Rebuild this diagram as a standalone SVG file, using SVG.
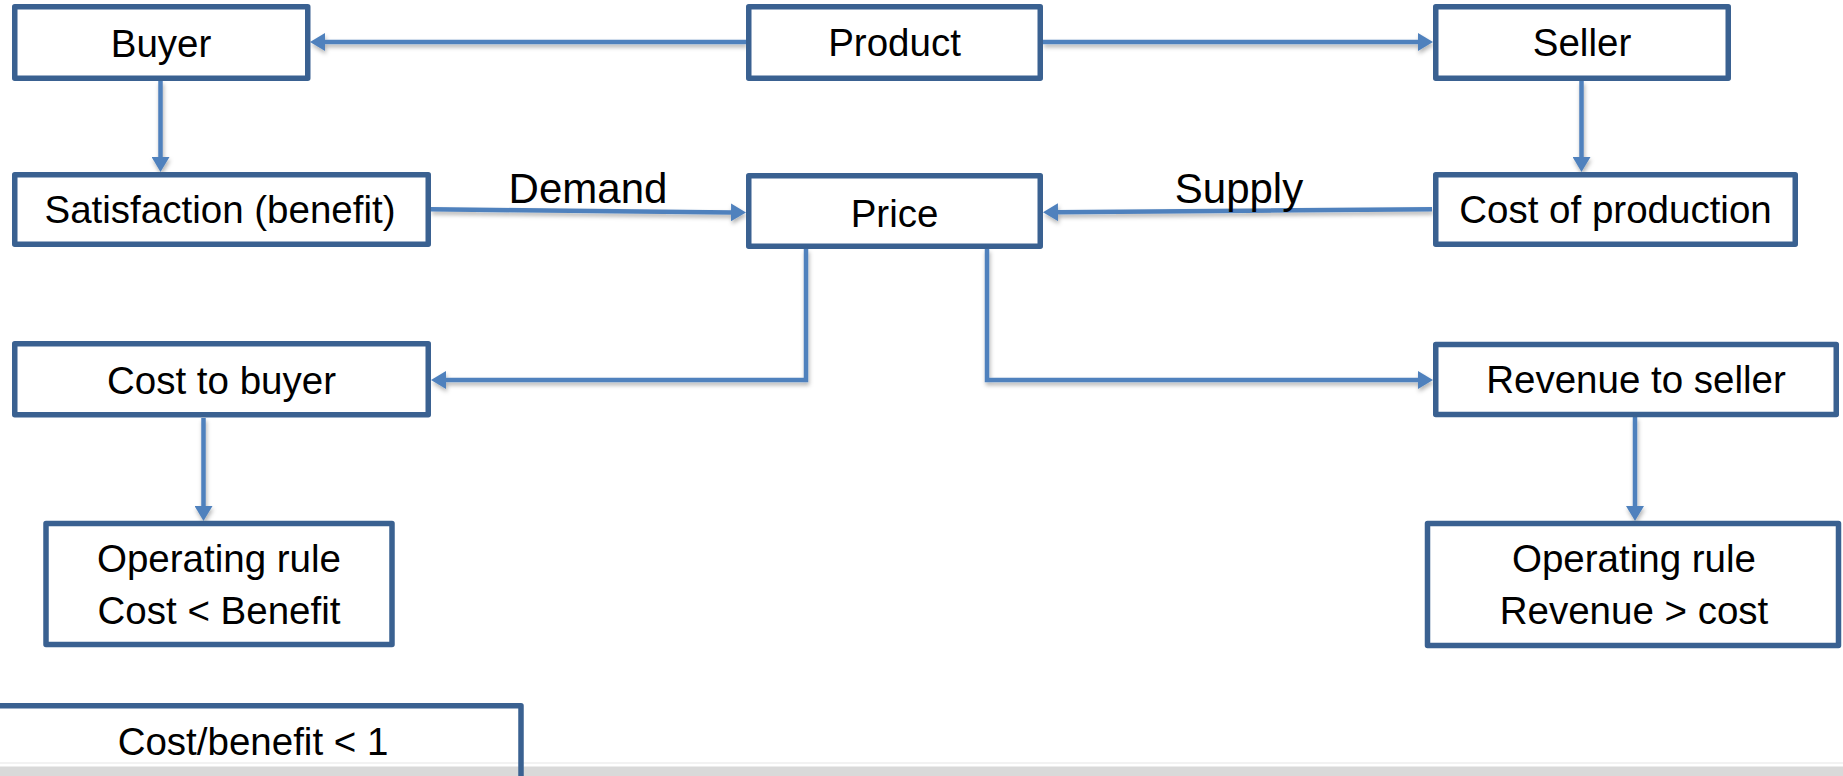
<svg xmlns="http://www.w3.org/2000/svg" width="1843" height="776" viewBox="0 0 1843 776">
<style>
.box{fill:#ffffff;stroke:#3A6191;stroke-width:5.5;stroke-linejoin:round}
.lbl{font-family:"Liberation Sans",Arial,sans-serif;font-size:38.5px;fill:#000;text-anchor:middle}
.big{font-family:"Liberation Sans",Arial,sans-serif;font-size:42px;fill:#000;text-anchor:middle}
.con{fill:none;stroke:#4F81BD;stroke-width:4.5;marker-end:url(#ah)}
</style>
<defs>
<marker id="ah" viewBox="0 0 15 18" refX="2" refY="9" markerWidth="15" markerHeight="18" markerUnits="userSpaceOnUse" orient="auto">
<path d="M0,0 L15,9 L0,18 z" fill="#4F81BD"/>
</marker>
<filter id="sh" x="-5%" y="-50%" width="110%" height="200%">
<feDropShadow dx="1" dy="3" stdDeviation="2" flood-color="#000" flood-opacity="0.3"/>
</filter>
</defs>
<rect x="0" y="762" width="1843" height="2" fill="#f2f2f2"/>
<rect x="0" y="766.5" width="1843" height="10" fill="#d9d9d9"/>
<g id="connectors" filter="url(#sh)">
<path class="con" d="M746,42 L323,42"/>
<path class="con" d="M1043,42 L1420,42"/>
<path class="con" d="M160.5,81 L160.5,159"/>
<path class="con" d="M1581.5,81 L1581.5,159"/>
<path class="con" d="M431,209.3 L733,212.4"/>
<path class="con" d="M1432,209.3 L1056,212.2"/>
<path class="con" d="M806,249 L806,380 L444,380"/>
<path class="con" d="M987,249 L987,380 L1420,380"/>
<path class="con" d="M203.5,418 L203.5,508"/>
<path class="con" d="M1635,417 L1635,508"/>
</g>
<g id="buyer"><rect class="box" x="14.75" y="6.75" width="293" height="71.5"/><text class="lbl" x="161" y="57">Buyer</text></g>
<g id="product"><rect class="box" x="748.75" y="6.75" width="291.5" height="71.5"/><text class="lbl" x="894.5" y="56">Product</text></g>
<g id="seller"><rect class="box" x="1435.75" y="6.75" width="292.5" height="71.5"/><text class="lbl" x="1582" y="56">Seller</text></g>
<g id="satisfaction"><rect class="box" x="14.75" y="174.75" width="413.5" height="69.5"/><text class="lbl" x="220" y="223">Satisfaction (benefit)</text></g>
<g id="price"><rect class="box" x="748.75" y="175.75" width="291.5" height="70.5"/><text class="lbl" x="894.5" y="227">Price</text></g>
<g id="cost-of-production"><rect class="box" x="1435.75" y="174.75" width="359.5" height="69.5"/><text class="lbl" x="1615.5" y="223">Cost of production</text></g>
<g id="cost-to-buyer"><rect class="box" x="14.75" y="343.75" width="413.5" height="71"/><text class="lbl" x="221.5" y="394">Cost to buyer</text></g>
<g id="revenue-to-seller"><rect class="box" x="1435.75" y="344.5" width="400.5" height="70"/><text class="lbl" x="1636" y="393">Revenue to seller</text></g>
<g id="op-rule-buyer"><rect class="box" x="46" y="523.5" width="346" height="121"/><text class="lbl" x="219" y="572">Operating rule</text><text class="lbl" x="219" y="623.5">Cost &lt; Benefit</text></g>
<g id="op-rule-seller"><rect class="box" x="1427.5" y="523.5" width="411" height="122"/><text class="lbl" x="1634" y="572">Operating rule</text><text class="lbl" x="1634" y="623.5">Revenue &gt; cost</text></g>
<g id="cost-benefit"><rect x="-4" y="705.75" width="525" height="80" fill="none" stroke="#3A6191" stroke-width="5.5" stroke-linejoin="round"/><text class="lbl" x="253" y="755">Cost/benefit &lt; 1</text></g>
<g id="labels"><text class="big" x="588" y="203">Demand</text><text class="big" x="1239" y="203">Supply</text></g>
</svg>
